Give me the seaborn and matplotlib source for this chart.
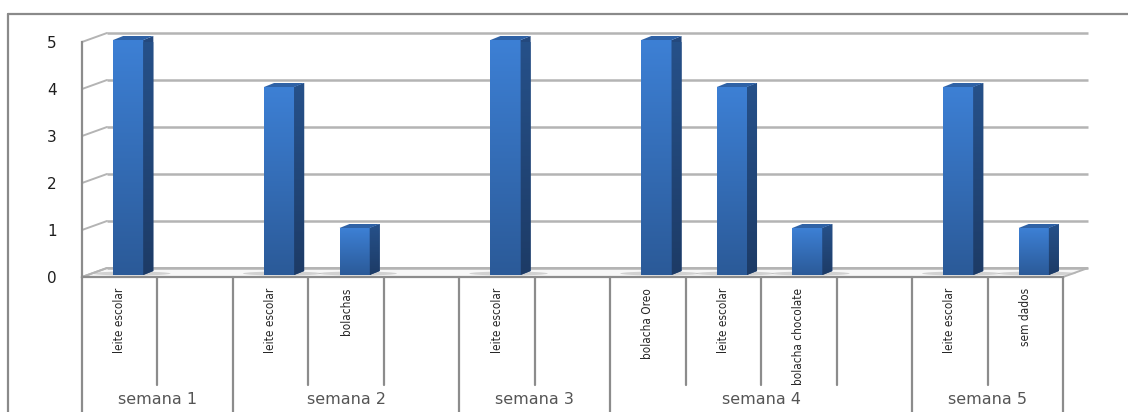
import numpy as np
import pandas as pd
import matplotlib
matplotlib.use("Agg")
import matplotlib.pyplot as plt
from matplotlib.patches import Polygon, Ellipse
from matplotlib.lines import Line2D
import seaborn as sns

# ---- data -------------------------------------------------------------
items = ["leite escolar", "", "leite escolar", "bolachas", "",
         "leite escolar", "", "bolacha Oreo", "leite escolar",
         "bolacha chocolate", "", "leite escolar", "sem dados"]
weeks = ["semana 1", "semana 1", "semana 2", "semana 2", "semana 2",
         "semana 3", "semana 3", "semana 4", "semana 4", "semana 4",
         "semana 4", "semana 5", "semana 5"]
values = [5, None, 4, 1, None, 5, None, 5, 4, 1, None, 4, 1]
y_ticks = [0, 1, 2, 3, 4, 5]

# ---- figure ---------------------------------------------------------
sns.set_theme(style="white")
plt.rcParams["font.family"] = ["DejaVu Sans"]

W, H = 1128, 412
fig = plt.figure(figsize=(W / 100, H / 100), dpi=100)
fig.patch.set_facecolor("white")

# plot area (front plane of the 3-D box)
x_left, x_right, y_floor, y_top = 82, 1063, 277, 42
ax = fig.add_axes([x_left / W, (H - y_floor) / H,
                   (x_right - x_left) / W, (y_floor - y_top) / H])
ax.set_facecolor("none")

n = len(items)
px_per_slot = (x_right - x_left) / n
px_per_unit = (y_floor - y_top) / 5.0
def dx(px):
    return px / px_per_slot
def dy(px):
    return px / px_per_unit

depth_x, depth_y = dx(25), dy(9)   # depth of the chart box
grid_col = "#b4b4b4"
axis_col = "#8c8c8c"

# outer chart frame (top and left edges)
fig.add_artist(Line2D([8 / W, 1.0], [1 - 14 / H, 1 - 14 / H],
                      transform=fig.transFigure, color="#8a8a8a", lw=1.6))
fig.add_artist(Line2D([8 / W, 8 / W], [1 - 14 / H, 0],
                      transform=fig.transFigure, color="#8a8a8a", lw=1.6))

# floor slab
floor = Polygon([(-0.5, 0), (n - 0.5, 0), (n - 0.5 + depth_x, depth_y),
                 (-0.5 + depth_x, depth_y)], closed=True,
                facecolor="#f7f7f7", edgecolor=grid_col, lw=1.4,
                clip_on=False, zorder=1)
ax.add_patch(floor)

# back-wall gridlines and side-wall diagonals
for t in y_ticks:
    ax.plot([-0.5 + depth_x, n - 0.5 + depth_x], [t + depth_y, t + depth_y],
            color=grid_col, lw=1.8, clip_on=False, zorder=1,
            solid_capstyle="butt")
    ax.plot([-0.5, -0.5 + depth_x], [t, t + depth_y],
            color=grid_col, lw=1.4, clip_on=False, zorder=1)

# ---- bars -------------------------------------------------------------
slots = [i for i, v in enumerate(values) if v is not None]
df = pd.DataFrame({"slot": slots, "value": [values[i] for i in slots]})
sns.barplot(data=df, x="slot", y="value", order=list(range(n)),
            width=0.4, color="#3572c0", saturation=1, ax=ax,
            edgecolor="none", zorder=3)

shift_x, shift_y = dx(8.5), dy(2)
side_x, side_y = dx(10), dy(4)
front_grad = np.linspace(0, 1, 256)[:, None]
front_cmap = matplotlib.colors.LinearSegmentedColormap.from_list(
    "front", ["#2b5a98", "#3d80d5"])
side_cmap = matplotlib.colors.LinearSegmentedColormap.from_list(
    "side", ["#1d3b66", "#26518a"])

for p in list(ax.patches):
    if p is floor:
        continue
    x0 = p.get_x() + shift_x
    w = p.get_width()
    h = p.get_height()
    p.set_x(x0)
    p.set_y(shift_y)
    x1 = x0 + w
    y0, y1 = shift_y, shift_y + h

    # soft shadow on the floor
    ax.add_patch(Ellipse(((x0 + x1) / 2 + dx(3), y0 + dy(1.5)), w * 2.6, dy(4),
                         facecolor="#b8b8b8", edgecolor="none", alpha=0.6,
                         clip_on=False, zorder=2))

    im = ax.imshow(front_grad, extent=[x0, x1, y0, y1], origin="lower",
                   cmap=front_cmap, aspect="auto", zorder=4)
    im.set_clip_path(p)

    side = Polygon([(x1, y0), (x1 + side_x, y0 + side_y),
                    (x1 + side_x, y1 + side_y), (x1, y1)], closed=True,
                   facecolor="#24497e", edgecolor="none", zorder=4,
                   clip_on=False)
    ax.add_patch(side)
    im2 = ax.imshow(front_grad, extent=[x1, x1 + side_x, y0, y1 + side_y],
                    origin="lower", cmap=side_cmap, aspect="auto", zorder=4)
    im2.set_clip_path(side)

    top = Polygon([(x0, y1), (x0 + side_x, y1 + side_y),
                   (x1 + side_x, y1 + side_y), (x1, y1)], closed=True,
                  facecolor="#2f62a6", edgecolor="none", zorder=5,
                  clip_on=False)
    ax.add_patch(top)

# ---- axes ---------------------------------------------------------------
ax.set_xlim(-0.5, n - 0.5)
ax.set_ylim(0, 5)
ax.set_xlabel("")
ax.set_ylabel("")
ax.set_yticks(y_ticks)
ax.set_yticklabels([str(t) for t in y_ticks])
ax.tick_params(axis="y", direction="out", length=6, width=1.4,
               color=axis_col, pad=12, labelsize=11, labelcolor="#1e1e1e")
ax.set_xticks(range(n))
ax.set_xticklabels(items, rotation=90, fontstretch="condensed",
                   fontsize=8.5, color="#262626")
ax.tick_params(axis="x", length=0, pad=8)
for s in ["top", "right"]:
    ax.spines[s].set_visible(False)
for s in ["left", "bottom"]:
    ax.spines[s].set_color(axis_col)
    ax.spines[s].set_linewidth(1.6)
ax.spines["bottom"].set_zorder(6)

# category separators and week groups
short_end = -dy(385 - y_floor)
long_end = -dy(H + 2 - y_floor)
for b in range(n + 1):
    is_group = b == 0 or b == n or weeks[b] != weeks[b - 1]
    ax.plot([b - 0.5, b - 0.5], [0, long_end if is_group else short_end],
            color=axis_col, lw=1.6, clip_on=False, zorder=2)

week_names = list(dict.fromkeys(weeks))
for wk in week_names:
    idx = [i for i, w in enumerate(weeks) if w == wk]
    cx = (idx[0] + idx[-1]) / 2
    ax.text(cx, -dy(400 - y_floor), wk, ha="center", va="center",
            fontsize=11.5, color="#555555", clip_on=False)

fig.savefig("out.png", dpi=100, facecolor="white")
